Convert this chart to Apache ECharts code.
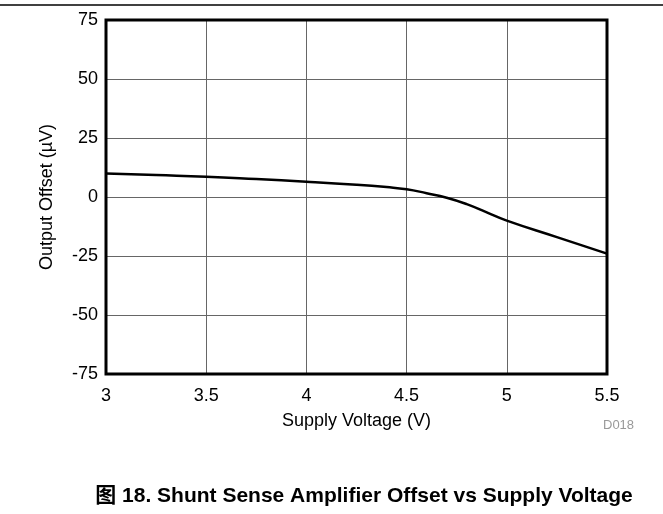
<!DOCTYPE html>
<html>
<head>
<meta charset="utf-8">
<script src="https://cdn.jsdelivr.net/npm/echarts@6/dist/echarts.min.js"></script>
<style>
  html, body { margin: 0; padding: 0; background: #fff; }
  #chart { width: 663px; height: 514px; }
</style>
</head>
<body>
<div id="chart"></div>
<script>
// supply voltage (V) and output offset (uV)
const voltage = [3.0, 3.25, 3.5, 3.75, 4.0, 4.25, 4.4, 4.5, 4.6, 4.7, 4.8, 4.9, 5.0, 5.25, 5.5];
const offset = [10, 9.3, 8.6, 7.6, 6.5, 5.2, 4.2, 3.3, 1.6, -0.3, -3.0, -6.5, -10, -17, -24];
const xTicks = [3, 3.5, 4, 4.5, 5, 5.5];
const yTicks = [-75, -50, -25, 0, 25, 50, 75];

const font = "'Liberation Sans', Arial, sans-serif";
const chart = echarts.init(document.getElementById("chart"));

chart.setOption({
  animation: false,
  grid: { left: 106, right: 56, top: 20, bottom: 140 },
  xAxis: {
    type: "value",
    min: xTicks[0],
    max: xTicks[xTicks.length - 1],
    interval: 0.5,
    name: "Supply Voltage (V)",
    nameLocation: "middle",
    nameGap: 38,
    nameTextStyle: { color: "#000", fontSize: 18, fontFamily: font },
    axisLine: { show: false },
    axisTick: { show: false },
    axisLabel: { color: "#000", fontSize: 18, fontFamily: font, margin: 13 },
    splitLine: { show: true, lineStyle: { color: "#666", width: 1 } },
  },
  yAxis: {
    type: "value",
    min: yTicks[0],
    max: yTicks[yTicks.length - 1],
    interval: 25,
    name: "Output Offset (\u00b5V)",
    nameLocation: "middle",
    nameGap: 50,
    nameTextStyle: { color: "#000", fontSize: 18, fontFamily: font },
    axisLine: { show: false },
    axisTick: { show: false },
    axisLabel: { color: "#000", fontSize: 18, fontFamily: font, margin: 8 },
    splitLine: { show: true, lineStyle: { color: "#666", width: 1 } },
  },
  graphic: [
    {
      type: "line",
      shape: { x1: 0, y1: 5, x2: 663, y2: 5 },
      style: { stroke: "#000", lineWidth: 1.5 },
    },
    {
      type: "rect",
      shape: { x: 106, y: 20, width: 501, height: 354 },
      style: { fill: "none", stroke: "#000", lineWidth: 3 },
      z: 10,
    },
    {
      type: "text",
      x: 603,
      y: 425,
      style: { text: "D018", fill: "#999", fontSize: 13, fontFamily: font, verticalAlign: "middle" },
    },
    {
      type: "text",
      x: 364,
      y: 496,
      style: {
        text: "图 18. Shunt Sense Amplifier Offset vs Supply Voltage",
        fill: "#000",
        fontSize: 21,
        fontWeight: "bold",
        fontFamily: "'Liberation Sans', 'Noto Sans CJK SC', Arial, sans-serif",
        align: "center",
        verticalAlign: "middle",
      },
    },
  ],
  series: [
    {
      type: "line",
      data: voltage.map((v, i) => [v, offset[i]]),
      smooth: true,
      showSymbol: false,
      lineStyle: { color: "#000", width: 2.5 },
    },
  ],
});
</script>
</body>
</html>
